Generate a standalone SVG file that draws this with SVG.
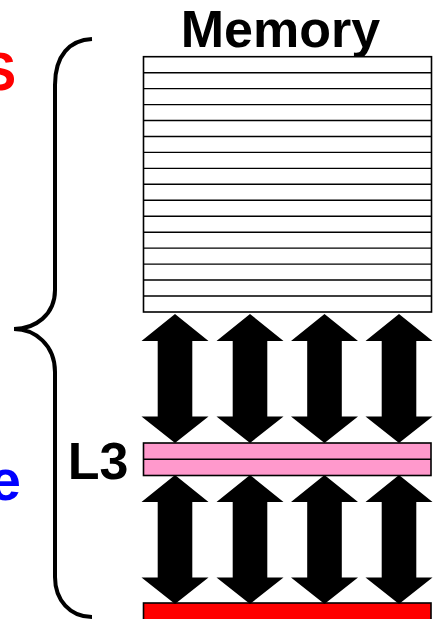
<svg xmlns="http://www.w3.org/2000/svg" width="433" height="619" viewBox="0 0 433 619">
<style>
.lbl{font-family:"Liberation Sans",Arial,sans-serif;font-weight:bold}
.row{fill:none;stroke:#000;stroke-width:1.4}
.box{stroke:#000;stroke-width:1.6}
</style>
<defs>
<path id="arr" d="M0,0 L33.5,27 L17.3,27 L17.3,102.5 L33.5,102.5 L0,129 L-33.5,102.5 L-17.3,102.5 L-17.3,27 L-33.5,27 Z" fill="#000"/>
</defs>
<rect width="433" height="619" fill="#fff"/>
<text class="lbl" x="16" y="90" font-size="53" fill="#ff0000" text-anchor="end">S</text>
<text class="lbl" x="21" y="499.5" font-size="57" fill="#0000ff" text-anchor="end">e</text>
<path id="brace" d="M92,39 C70,40 55,55 55,85 L55,290 C55,315 35,329 14,329 C35,329 55,345 55,372 L55,577 C55,600 70,617 92,617" fill="none" stroke="#000" stroke-width="4"/>
<g id="memory">
<text class="lbl" x="280.5" y="47" font-size="52" text-anchor="middle">Memory</text>
<rect class="box" x="143.5" y="56.7" width="288" height="255.3" fill="#fff"/>
<path class="row" d="M143.5,72.7H431.5M143.5,88.6H431.5M143.5,104.6H431.5M143.5,120.5H431.5M143.5,136.5H431.5M143.5,152.4H431.5M143.5,168.4H431.5M143.5,184.3H431.5M143.5,200.3H431.5M143.5,216.2H431.5M143.5,232.2H431.5M143.5,248.1H431.5M143.5,264.1H431.5M143.5,280H431.5M143.5,296H431.5"/>
</g>
<g id="l3">
<text class="lbl" x="98" y="479" font-size="52" text-anchor="middle">L3</text>
<rect class="box" x="143.5" y="443" width="287.5" height="32.5" fill="#ff99cc"/>
<line x1="143.5" y1="459.3" x2="431" y2="459.3" stroke="#000" stroke-width="1.6"/>
</g>
<g id="l2">
<rect class="box" x="143.5" y="603" width="287.5" height="20" fill="#ff0000"/>
</g>
<g id="connectors">
<use href="#arr" x="175" y="314"/>
<use href="#arr" x="250" y="314"/>
<use href="#arr" x="324.5" y="314"/>
<use href="#arr" x="399" y="314"/>
<use href="#arr" x="175" y="475"/>
<use href="#arr" x="250" y="475"/>
<use href="#arr" x="324.5" y="475"/>
<use href="#arr" x="399" y="475"/>
</g>
</svg>
